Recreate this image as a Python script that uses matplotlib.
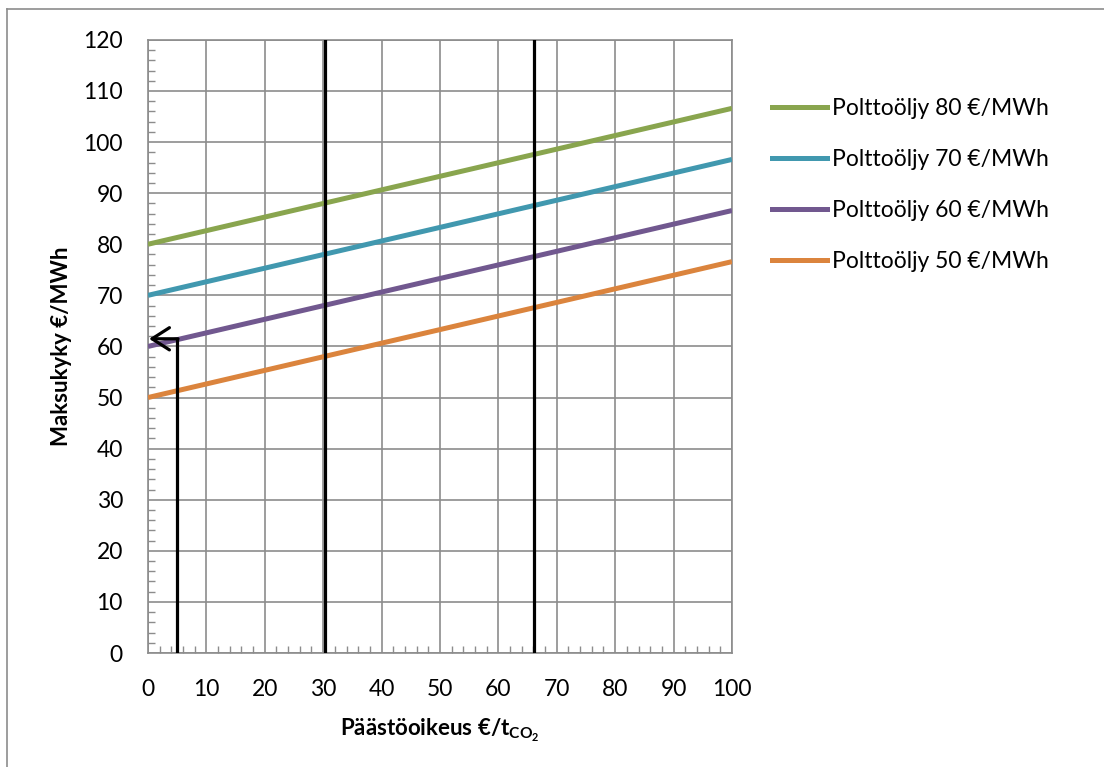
import numpy as np
import matplotlib.pyplot as plt
from matplotlib.lines import Line2D
from matplotlib.ticker import MultipleLocator

plt.rcParams['font.family'] = ['Lato', 'DejaVu Sans']
plt.rcParams['mathtext.fontset'] = 'custom'
plt.rcParams['mathtext.rm'] = 'Lato:bold'

# data
x = [0, 100]
series_labels = ['Polttoöljy 80 €/MWh', 'Polttoöljy 70 €/MWh',
                 'Polttoöljy 60 €/MWh', 'Polttoöljy 50 €/MWh']
series_values = [[80, 106.6], [70, 96.6], [60, 86.6], [50, 76.6]]
colors = ['#89A54E', '#4198AF', '#71588F', '#DB843D']
vlines_x = [30.4, 66.1]
arrow_x = 5
arrow_y = 61.5

fig = plt.figure(figsize=(11.04, 7.67), dpi=100)
ax = fig.add_axes([0.134, 0.1486, 0.529, 0.7994])

for vals, lab, c in zip(series_values, series_labels, colors):
    ax.plot(x, vals, color=c, lw=3.6, label=lab, solid_capstyle='butt', zorder=3)

for vx in vlines_x:
    ax.plot([vx, vx], [0, 120], color='black', lw=2.3, zorder=4)

# arrow: up from x-axis, then left to y-axis
ax.plot([arrow_x, arrow_x], [0, arrow_y], color='black', lw=2.3, zorder=4,
        solid_capstyle='butt')
ax.annotate('', xy=(0.2, arrow_y), xytext=(arrow_x + 0.15, arrow_y),
            arrowprops=dict(arrowstyle='->,head_length=1.25,head_width=0.8',
                            color='black', lw=2.3, shrinkA=0, shrinkB=0),
            zorder=5)

ax.set_xlim(0, 100)
ax.set_ylim(0, 120)
ax.xaxis.set_major_locator(MultipleLocator(10))
ax.yaxis.set_major_locator(MultipleLocator(10))
ax.xaxis.set_minor_locator(MultipleLocator(2))
ax.yaxis.set_minor_locator(MultipleLocator(2))
ax.grid(True, which='major', color='#8c8c8c', lw=1.2, zorder=1)
ax.tick_params(which='major', length=0, labelsize=16.5)
ax.tick_params(axis='x', which='major', pad=19)
ax.tick_params(axis='y', which='major', pad=18)
ax.tick_params(which='minor', length=5, width=1, color='#8c8c8c', direction='in')
for s in ax.spines.values():
    s.set_color('#8c8c8c')
    s.set_linewidth(1.2)

ax.set_xlabel('Päästöoikeus €/t$_{\\mathregular{CO_2}}$', fontsize=16,
              fontweight='bold', labelpad=12)
ax.set_ylabel('Maksukyky €/MWh', fontsize=16, fontweight='bold', labelpad=8)

handles = [Line2D([0], [0], color=c, lw=3.6) for c in colors]
fig.legend(handles, series_labels, loc='upper left',
           bbox_to_anchor=(0.6993, 0.872), frameon=False, fontsize=16.5,
           handlelength=2.4, handletextpad=0.2, labelspacing=1.3,
           borderpad=0, borderaxespad=0)

# outer chart border
fig.add_artist(Line2D([0.0065, 0.0065], [0, 0.988], color='#8c8c8c', lw=1.2,
                      transform=fig.transFigure))
fig.add_artist(Line2D([0.0065, 1], [0.988, 0.988], color='#8c8c8c', lw=1.2,
                      transform=fig.transFigure))

fig.savefig('out.png', dpi=100)
